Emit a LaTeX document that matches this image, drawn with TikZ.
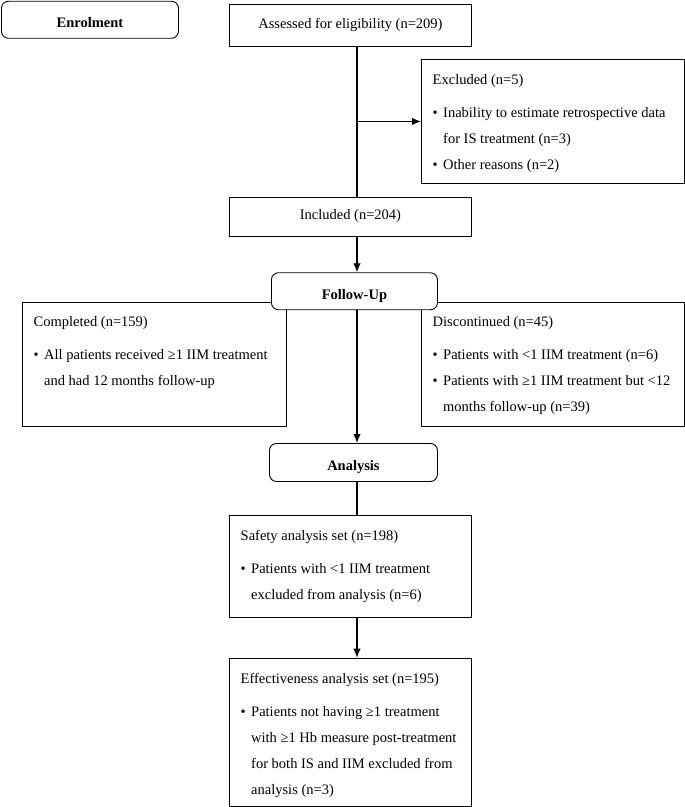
\documentclass[tikz,border=0pt]{standalone}
\usepackage{fontspec}
\setmainfont{Liberation Serif}
\usetikzlibrary{arrows.meta}
\newcommand{\itm}{\makebox[10.5pt][l]{\textbullet}}
\newcommand{\ind}{\hspace*{10.5pt}}
\tikzset{
  box/.style={draw, line width=0.9pt, inner sep=0pt, anchor=north west},
  stage/.style={box, fill=white, rounded corners=7pt, text height=16pt, text depth=0pt,
    font=\fontsize{14.5}{17}\selectfont\bfseries},
  txt/.style={align=left, inner sep=0pt, anchor=north west, font=\fontsize{14.5}{26}\selectfont},
  link/.style={line width=1.2pt, >={Latex[length=9pt,width=7.5pt]}},
}
\begin{document}
\begin{tikzpicture}[x=1pt,y=1pt]
        \useasboundingbox (0,0) rectangle (685,-807);
        \coordinate (spine) at (357,0);
        % boxes
        \node[box, minimum width=242, minimum height=42, font=\fontsize{14.5}{17}\selectfont] (assess) at (229,-4) {Assessed for eligibility (n=209)};
        \node[box, minimum width=263, minimum height=123.4] (excl) at (421,-59.3) {};
        \node[box, minimum width=242, minimum height=39, font=\fontsize{14.5}{17}\selectfont] (incl) at (229,-196.5) {Included (n=204)};
        \node[box, minimum width=264, minimum height=124.3] (compl) at (22,-301.7) {};
        \node[box, minimum width=263, minimum height=124.3] (discont) at (421,-301.7) {};
        \node[box, minimum width=242, minimum height=101.7] (safety) at (229,-515) {};
        \node[box, minimum width=242, minimum height=148.3] (eff) at (229,-657.7) {};
        % stages
        \node[stage, minimum width=177, minimum height=37] (enrol) at (1,-0.8) {Enrolment};
        \node[stage, minimum width=166, minimum height=37] (follow) at (271,-272.3) {Follow-Up};
        \node[stage, minimum width=168, minimum height=38] (analysis) at (269,-443) {Analysis};
        % texts
        \node[txt] (excltxt) at ([shift={(11.5,-15)}]excl.north west) {Excluded (n=5)\\[7pt]
          \itm Inability to estimate retrospective data\\ \ind for IS treatment (n=3)\\
          \itm Other reasons (n=2)};
        \node[txt] (compltxt) at ([shift={(11.5,-15)}]compl.north west) {Completed (n=159)\\[7pt]
          \itm All patients received ≥1 IIM treatment\\ \ind and had 12 months follow-up};
        \node[txt] (discotxt) at ([shift={(11.5,-15)}]discont.north west) {Discontinued (n=45)\\[7pt]
          \itm Patients with <1 IIM treatment (n=6)\\
          \itm Patients with ≥1 IIM treatment but <12\\ \ind months follow-up (n=39)};
        \node[txt] (safetxt) at ([shift={(11.5,-15)}]safety.north west) {Safety analysis set (n=198)\\[7pt]
          \itm Patients with <1 IIM treatment\\ \ind excluded from analysis (n=6)};
        \node[txt] (efftxt) at ([shift={(11.5,-15)}]eff.north west) {Effectiveness analysis set (n=195)\\[7pt]
          \itm Patients not having ≥1 treatment\\ \ind with ≥1 Hb measure post-treatment\\
          \ind for both IS and IIM excluded from\\ \ind analysis (n=3)};
        % connectors
        \draw[link] (assess.south -| spine) -- (incl.north -| spine);
        \draw[link, ->] (excl.west -| spine) -- (excl.west);
        \draw[link, ->] (incl.south -| spine) -- (follow.north -| spine);
        \draw[link, ->] (follow.south -| spine) -- (analysis.north -| spine);
        \draw[link] (analysis.south -| spine) -- (safety.north -| spine);
        \draw[link, ->] (safety.south -| spine) -- (eff.north -| spine);
\end{tikzpicture}
\end{document}
